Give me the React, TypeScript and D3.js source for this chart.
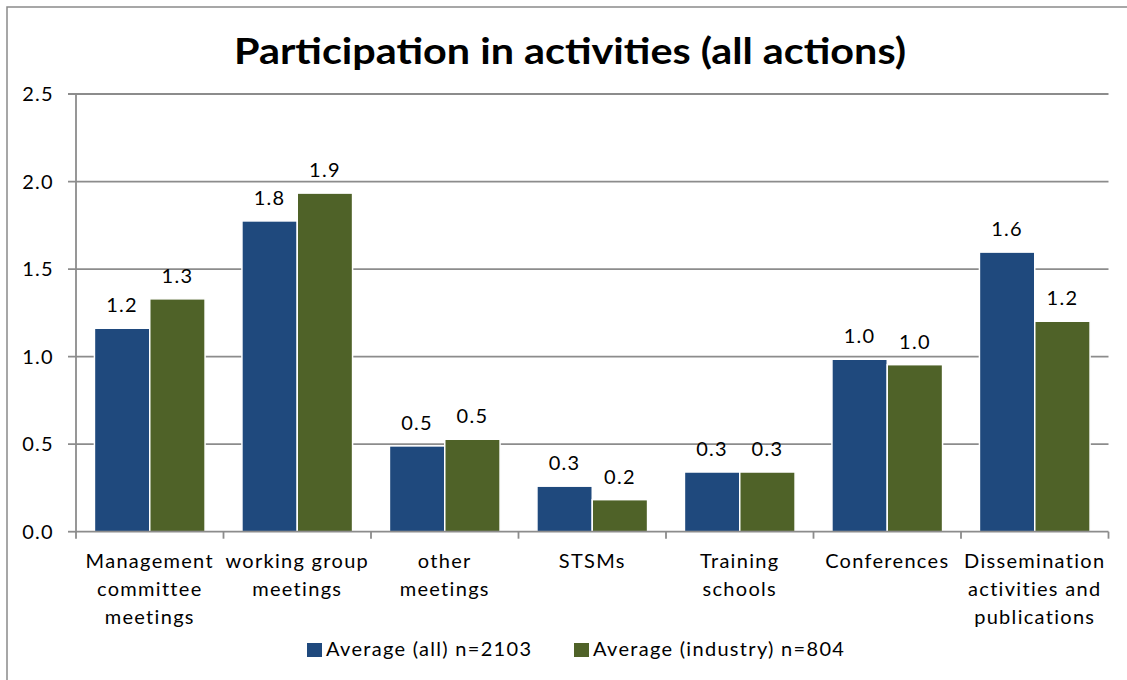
import React from "react";
import * as d3 from "d3";

const categories: string[][] = [
  ["Management", "committee", "meetings"],
  ["working group", "meetings"],
  ["other", "meetings"],
  ["STSMs"],
  ["Training", "schools"],
  ["Conferences"],
  ["Dissemination", "activities and", "publications"],
];
const seriesNames = ["Average (all) n=2103", "Average (industry) n=804"];
const allValues = [1.162, 1.775, 0.49, 0.26, 0.341, 0.985, 1.597];
const industryValues = [1.33, 1.934, 0.528, 0.183, 0.341, 0.954, 1.202];
const yTicks = [0, 0.5, 1.0, 1.5, 2.0, 2.5];
const colors = ["#1f497d", "#4f6228"];
const title = "Participation in activities (all actions)";

const W = 1127;
const H = 680;
const plot = { left: 76, right: 1108.5, top: 94, bottom: 531.7 };
const FONT = "Lato, 'Open Sans', sans-serif";
const GRID = "#8c8c8c";
const FS = 20;
const LS = 1.3;

export default function App() {
  const keys = categories.map((c) => c.join(" "));
  const x = d3.scaleBand<string>().domain(keys).range([plot.left, plot.right]).paddingInner(0).paddingOuter(0);
  const bw = x.bandwidth();
  const groupW = bw * 0.75;
  const x1 = d3
    .scaleBand<number>()
    .domain([0, 1])
    .range([(bw - groupW) / 2, (bw + groupW) / 2])
    .padding(0);
  const y = d3.scaleLinear().domain([0, 2.5]).range([plot.bottom, plot.top]);
  const fmt = d3.format(".1f");
  const series = [allValues, industryValues];
  const boundaries = d3.range(categories.length + 1).map((i) => plot.left + i * bw);

  return (
    <div style={{ position: "fixed", left: 0, top: 0, width: W, height: H, background: "#fff" }}>
      <svg width={W} height={H} style={{ display: "block", fontFamily: FONT }}>
        <rect x={0} y={0} width={W} height={H} fill="#fff" />
        <rect x={7} y={7} width={W + 50} height={H + 50} fill="none" stroke="#8a8a8a" strokeWidth={1.5} />
        <text
          x={570}
          y={63.5}
          textAnchor="middle"
          fontSize={36}
          fontWeight="bold"
          fill="#000"
          textLength={672}
          lengthAdjust="spacingAndGlyphs"
        >
          {title}
        </text>

        {/* gridlines */}
        {yTicks.map((t) => (
          <g key={"g" + t}>
            <line x1={68} x2={t === 0 ? 76 : plot.right} y1={y(t)} y2={y(t)} stroke={GRID} strokeWidth={1.8} />
            <text x={54} y={y(t)} dy="0.36em" textAnchor="end" fontSize={FS} fill="#000" letterSpacing={LS}>
              {fmt(t)}
            </text>
          </g>
        ))}

        {/* bars */}
        {series.map((vals, s) =>
          vals.map((v, i) => {
            const bx = (x(keys[i]) as number) + (x1(s) as number);
            const w = x1.bandwidth();
            return (
              <g key={`b${s}-${i}`}>
                <rect x={bx} y={y(v)} width={w} height={y(0) - y(v)} fill={colors[s]} stroke="#fff" strokeWidth={1.5} />
                <text x={bx + w / 2} y={y(v) - 16} textAnchor="middle" fontSize={FS} fill="#000" letterSpacing={LS}>
                  {fmt(v)}
                </text>
              </g>
            );
          })
        )}

        {/* axes */}
        <line x1={plot.left} x2={plot.left} y1={plot.top} y2={plot.bottom + 1} stroke={GRID} strokeWidth={1.8} />
        <line x1={plot.left} x2={plot.right} y1={plot.bottom} y2={plot.bottom} stroke={GRID} strokeWidth={1.8} />
        {boundaries.map((bx, i) => (
          <line key={"t" + i} x1={bx} x2={bx} y1={plot.bottom} y2={plot.bottom + 7} stroke={GRID} strokeWidth={1.8} />
        ))}

        {/* category labels */}
        {categories.map((lines, i) => (
          <text key={"c" + i} textAnchor="middle" fontSize={FS} fill="#000" letterSpacing={LS}>
            {lines.map((ln, j) => (
              <tspan key={j} x={(x(keys[i]) as number) + bw / 2} y={568 + j * 28}>
                {ln}
              </tspan>
            ))}
          </text>
        ))}

        {/* legend */}
        {seriesNames.map((name, s) => {
          const lx = [307, 574][s];
          return (
            <g key={"l" + s}>
              <rect x={lx} y={643} width={15} height={14} fill={colors[s]} />
              <text x={lx + 19} y={656} fontSize={FS} fill="#000" letterSpacing={LS}>
                {name}
              </text>
            </g>
          );
        })}
      </svg>
    </div>
  );
}
